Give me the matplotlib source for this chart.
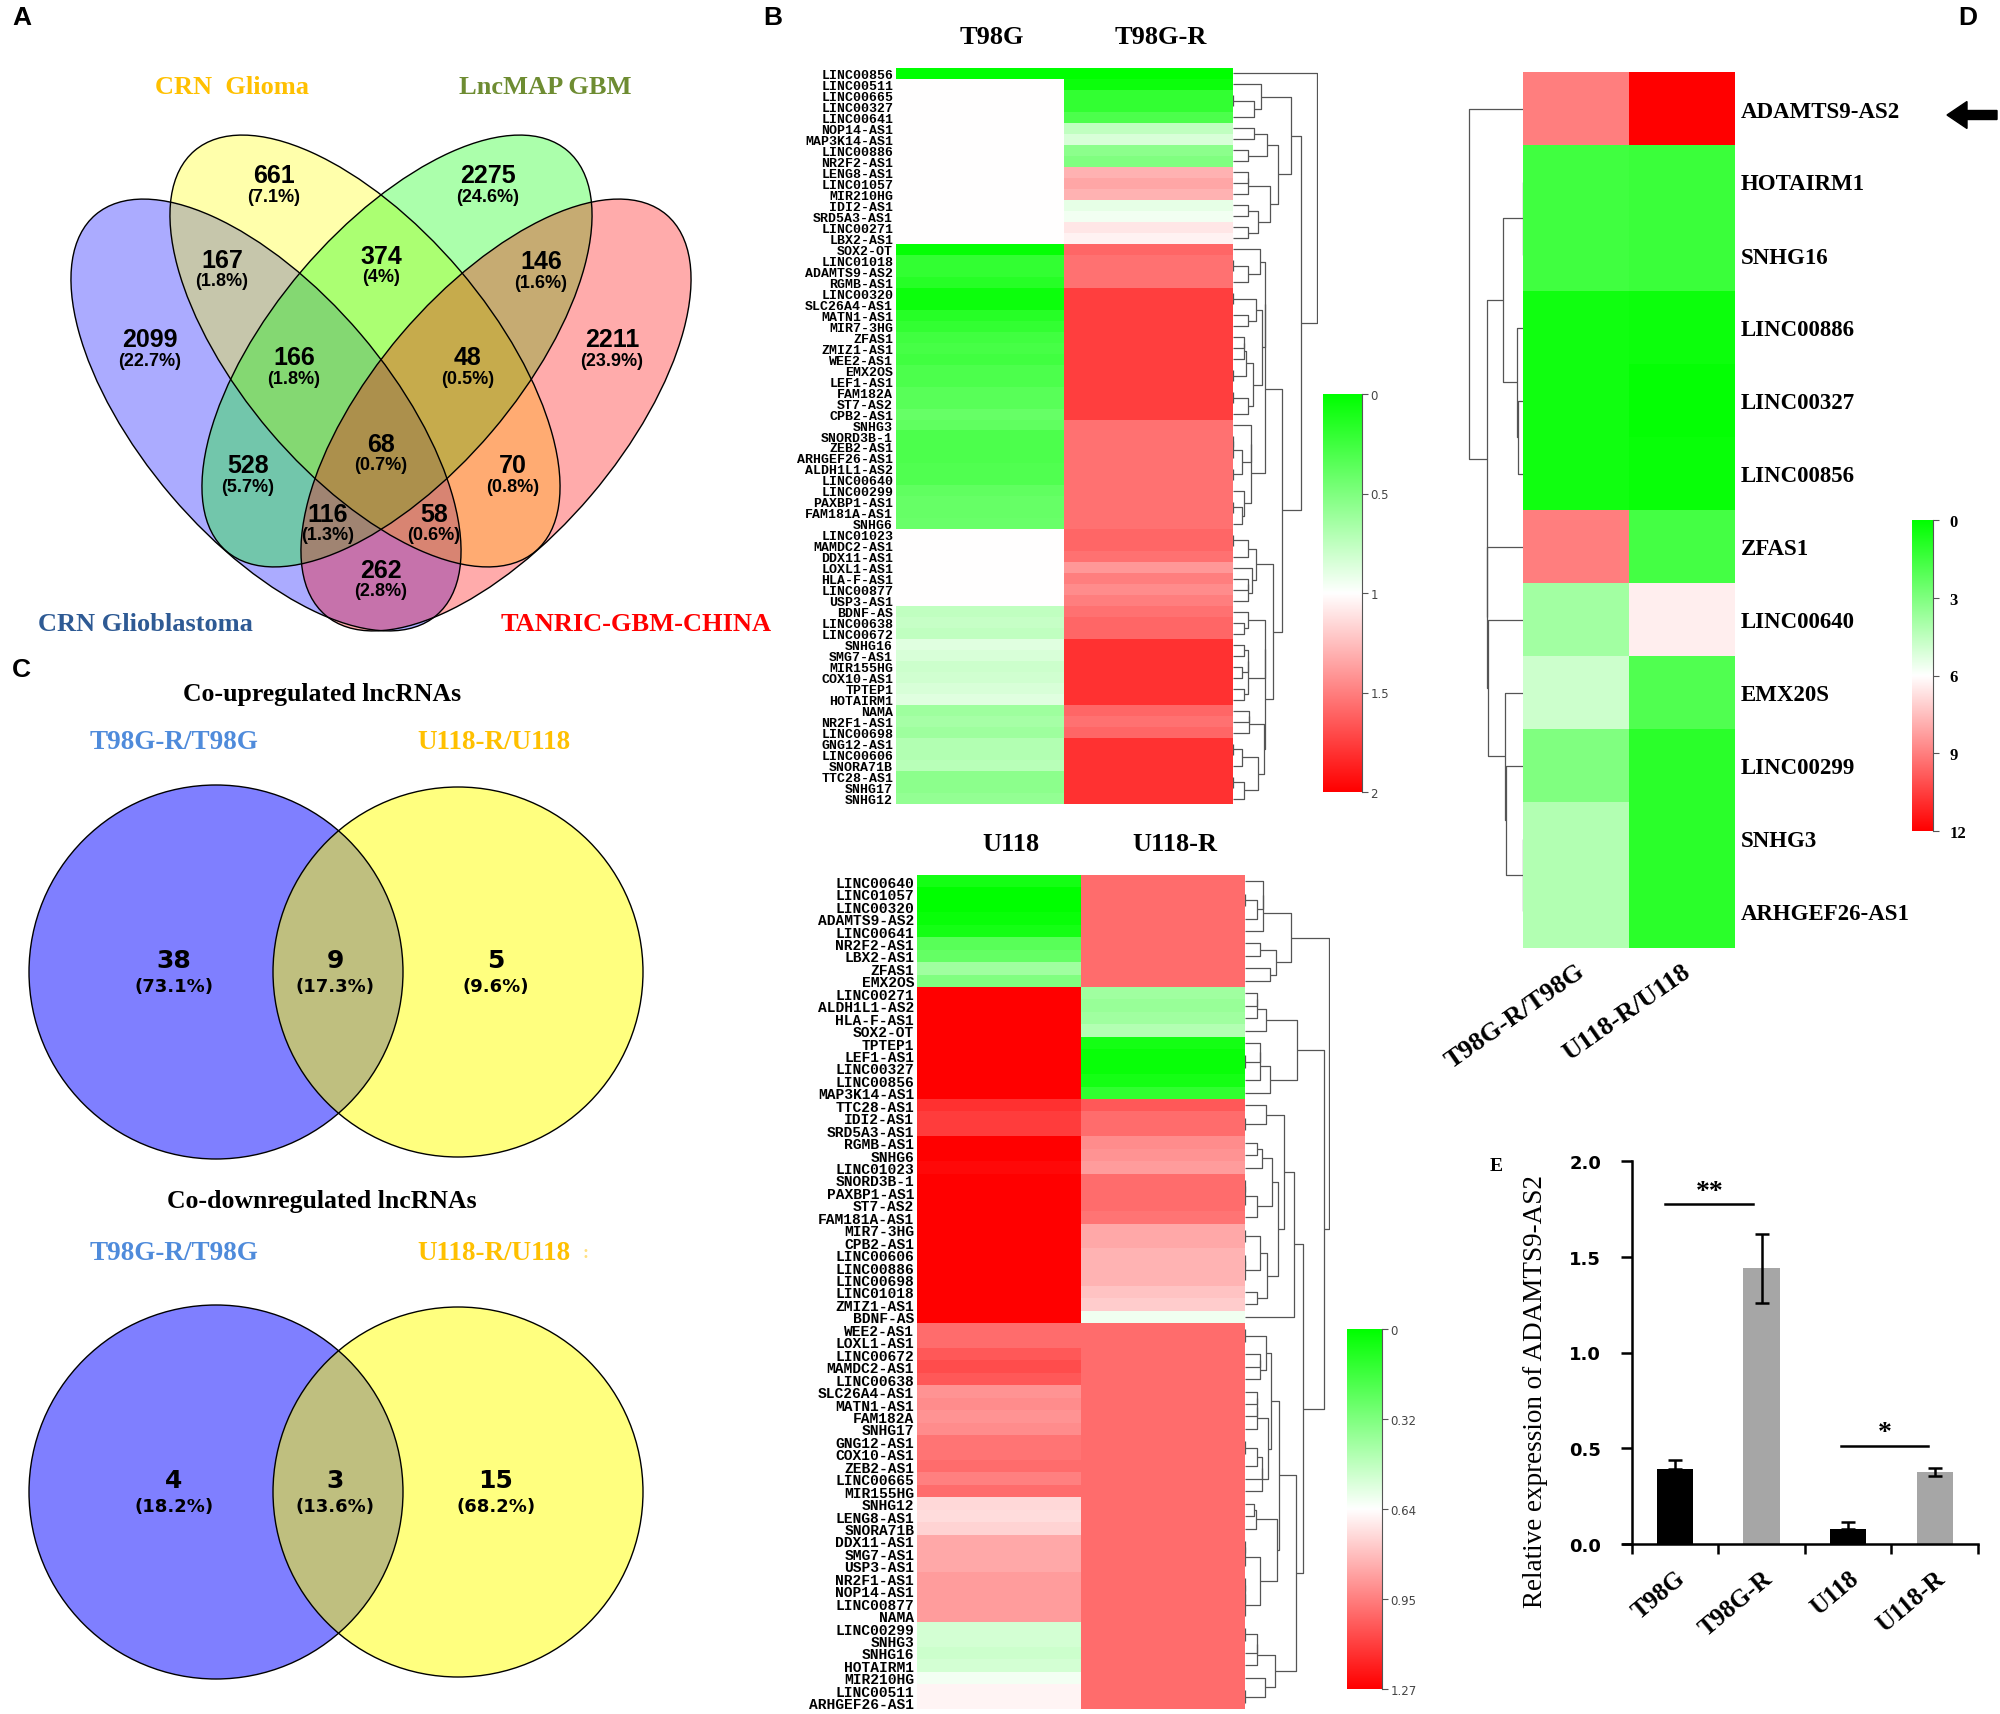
import numpy as np
import matplotlib
matplotlib.use("Agg")
import matplotlib.pyplot as plt
from matplotlib.patches import Ellipse, Circle, FancyArrow
from matplotlib.colors import LinearSegmentedColormap
from matplotlib import font_manager

W, H = 2000, 1715

installed = {f.name for f in font_manager.fontManager.ttflist}
NARROW = "Liberation Sans Narrow" if "Liberation Sans Narrow" in installed else "Liberation Sans"
SANS = "Liberation Sans"
SERIF = "Liberation Serif"
MONO = "Liberation Mono"

# ---------------- panel A: four-set venn ----------------
venn4_sets = ["CRN Glioblastoma", "CRN  Glioma", "LncMAP GBM", "TANRIC-GBM-CHINA"]
venn4_counts = [2099, 661, 2275, 2211, 167, 374, 146, 528, 70, 262, 166, 48, 68, 116, 58]
venn4_pcts = ["22.7%", "7.1%", "24.6%", "23.9%", "1.8%", "4%", "1.6%", "5.7%",
              "0.8%", "2.8%", "1.8%", "0.5%", "0.7%", "1.3%", "0.6%"]

# ---------------- panel C: two-set venns ----------------
pair_sets = ["T98G-R/T98G", "U118-R/U118"]
up_counts = [38, 9, 5]
up_pcts = ["73.1%", "17.3%", "9.6%"]
down_counts = [4, 3, 15]
down_pcts = ["18.2%", "13.6%", "68.2%"]

# ---------------- panel B: heatmaps ----------------
top_genes = ["LINC00856", "LINC00511", "LINC00665", "LINC00327", "LINC00641", "NOP14-AS1",
             "MAP3K14-AS1", "LINC00886", "NR2F2-AS1", "LENG8-AS1", "LINC01057", "MIR210HG",
             "IDI2-AS1", "SRD5A3-AS1", "LINC00271", "LBX2-AS1", "SOX2-OT", "LINC01018",
             "ADAMTS9-AS2", "RGMB-AS1", "LINC00320", "SLC26A4-AS1", "MATN1-AS1", "MIR7-3HG",
             "ZFAS1", "ZMIZ1-AS1", "WEE2-AS1", "EMX2OS", "LEF1-AS1", "FAM182A", "ST7-AS2",
             "CPB2-AS1", "SNHG3", "SNORD3B-1", "ZEB2-AS1", "ARHGEF26-AS1", "ALDH1L1-AS2",
             "LINC00640", "LINC00299", "PAXBP1-AS1", "FAM181A-AS1", "SNHG6", "LINC01023",
             "MAMDC2-AS1", "DDX11-AS1", "LOXL1-AS1", "HLA-F-AS1", "LINC00877", "USP3-AS1",
             "BDNF-AS", "LINC00638", "LINC00672", "SNHG16", "SMG7-AS1", "MIR155HG",
             "COX10-AS1", "TPTEP1", "HOTAIRM1", "NAMA", "NR2F1-AS1", "LINC00698",
             "GNG12-AS1", "LINC00606", "SNORA71B", "TTC28-AS1", "SNHG17", "SNHG12"]
top_t98g = [0.0, 1, 1, 1, 1, 1, 1, 1, 1, 1, 1, 1, 1, 1, 1, 1,
            0.02, 0.2, 0.2, 0.15, 0.05, 0.05, 0.15, 0.2, 0.25, 0.28, 0.25, 0.3, 0.3,
            0.35, 0.35, 0.4, 0.38, 0.3, 0.3, 0.3, 0.32, 0.32, 0.38, 0.4, 0.4, 0.42,
            1, 1, 1, 1, 1, 1, 1,
            0.75, 0.78, 0.75, 0.88, 0.85, 0.8, 0.82, 0.85, 0.88, 0.62, 0.65, 0.62,
            0.7, 0.7, 0.72, 0.55, 0.55, 0.58]
top_t98g_r = [0.0, 0.05, 0.2, 0.2, 0.3, 0.75, 0.85, 0.55, 0.5, 1.3, 1.35, 1.3, 0.9, 0.95, 1.1, 1.05,
              1.6, 1.55, 1.55, 1.55,
              1.75, 1.75, 1.75, 1.75, 1.75, 1.75, 1.75, 1.75, 1.75, 1.75, 1.75, 1.75,
              1.55, 1.55, 1.55, 1.55, 1.55, 1.55, 1.55, 1.55, 1.55, 1.55,
              1.6, 1.6, 1.55, 1.4, 1.5, 1.45, 1.5,
              1.55, 1.6, 1.6,
              1.8, 1.8, 1.8, 1.8, 1.8, 1.8,
              1.6, 1.55, 1.6,
              1.8, 1.8, 1.8, 1.8, 1.8, 1.8]

bot_genes = ["LINC00640", "LINC01057", "LINC00320", "ADAMTS9-AS2", "LINC00641", "NR2F2-AS1",
             "LBX2-AS1", "ZFAS1", "EMX2OS", "LINC00271", "ALDH1L1-AS2", "HLA-F-AS1", "SOX2-OT",
             "TPTEP1", "LEF1-AS1", "LINC00327", "LINC00856", "MAP3K14-AS1", "TTC28-AS1",
             "IDI2-AS1", "SRD5A3-AS1", "RGMB-AS1", "SNHG6", "LINC01023", "SNORD3B-1",
             "PAXBP1-AS1", "ST7-AS2", "FAM181A-AS1", "MIR7-3HG", "CPB2-AS1", "LINC00606",
             "LINC00886", "LINC00698", "LINC01018", "ZMIZ1-AS1", "BDNF-AS", "WEE2-AS1",
             "LOXL1-AS1", "LINC00672", "MAMDC2-AS1", "LINC00638", "SLC26A4-AS1", "MATN1-AS1",
             "FAM182A", "SNHG17", "GNG12-AS1", "COX10-AS1", "ZEB2-AS1", "LINC00665",
             "MIR155HG", "SNHG12", "LENG8-AS1", "SNORA71B", "DDX11-AS1", "SMG7-AS1",
             "USP3-AS1", "NR2F1-AS1", "NOP14-AS1", "LINC00877", "NAMA", "LINC00299", "SNHG3",
             "SNHG16", "HOTAIRM1", "MIR210HG", "LINC00511", "ARHGEF26-AS1"]
bot_u118 = [0.05, 0.0, 0.0, 0.02, 0.05, 0.22, 0.25, 0.4, 0.32,
            1.27, 1.27, 1.27, 1.27, 1.27, 1.27, 1.27, 1.27, 1.27,
            1.15, 1.12, 1.12,
            1.27, 1.27, 1.25, 1.27, 1.27, 1.27, 1.27, 1.27, 1.27, 1.27, 1.27, 1.27, 1.27, 1.27, 1.27,
            1.0, 1.0, 1.05, 1.08, 1.05, 0.9, 0.92, 0.9, 0.92, 0.98, 0.98, 1.0, 0.95, 1.0,
            0.73, 0.72, 0.74, 0.85, 0.85, 0.85, 0.88, 0.88, 0.88, 0.88,
            0.53, 0.53, 0.51, 0.53, 0.61, 0.66, 0.66]
bot_u118_r = [1.0, 1.0, 1.0, 1.0, 1.0, 1.0, 1.0, 1.0, 1.0,
              0.4, 0.38, 0.4, 0.45, 0.05, 0.02, 0.02, 0.05, 0.12,
              1.05, 1.0, 1.0, 0.92, 0.9, 0.88, 1.0, 1.0, 1.0, 0.98, 0.85, 0.85, 0.82, 0.82,
              0.82, 0.78, 0.76, 0.6,
              1.0, 1.0, 1.0, 1.0, 1.0, 1.0, 1.0, 1.0, 1.0, 1.0, 1.0, 1.0, 1.0, 1.0, 1.0, 1.0,
              1.0, 1.0, 1.0, 1.0, 1.0, 1.0, 1.0, 1.0, 1.0, 1.0, 1.0, 1.0, 1.0, 1.0, 1.0]

# ---------------- panel D: fold-change heatmap ----------------
d_genes = ["ADAMTS9-AS2", "HOTAIRM1", "SNHG16", "LINC00886", "LINC00327", "LINC00856",
           "ZFAS1", "LINC00640", "EMX20S", "LINC00299", "SNHG3", "ARHGEF26-AS1"]
d_cols = ["T98G-R/T98G", "U118-R/U118"]
d_t98g = [9.0, 1.5, 1.5, 0.4, 0.4, 0.4, 9.0, 3.8, 4.8, 3.0, 4.2, 4.2]
d_u118 = [12.0, 1.4, 1.4, 0.3, 0.1, 0.2, 1.6, 6.4, 1.9, 1.0, 1.0, 1.0]

# ---------------- panel E: qPCR bars ----------------
e_groups = ["T98G", "T98G-R", "U118", "U118-R"]
e_means = [0.39, 1.44, 0.08, 0.376]
e_err_low = [0.0, 0.18, 0.0, 0.02]
e_err_high = [0.05, 0.18, 0.035, 0.02]

gwr = LinearSegmentedColormap.from_list("gwr", ["#00FF00", "#FFFFFF", "#FF0000"])


def rect(x0, y0, x1, y1):
    return [x0 / W, 1 - y1 / H, (x1 - x0) / W, (y1 - y0) / H]


def adjacent_linkage(values):
    # average linkage, merging only neighbouring clusters so the leaves keep the row order
    groups = [[i] for i in range(len(values))]
    pos = [float(i) for i in range(len(values))]
    hgt = [0.0] * len(values)
    links = []
    while len(groups) > 1:
        best_j, best_d = 0, None
        for j in range(len(groups) - 1):
            a = values[groups[j]]
            b = values[groups[j + 1]]
            d = np.sqrt(((a[:, None, :] - b[None, :, :]) ** 2).sum(-1)).mean()
            if best_d is None or d < best_d:
                best_j, best_d = j, d
        j = best_j
        h = max(best_d, hgt[j], hgt[j + 1])
        links.append((pos[j], hgt[j], pos[j + 1], hgt[j + 1], h))
        groups[j:j + 2] = [groups[j] + groups[j + 1]]
        pos[j:j + 2] = [(pos[j] + pos[j + 1]) / 2]
        hgt[j:j + 2] = [h]
    return links


def draw_dendrogram(box, values, left=False):
    ax = fig.add_axes(rect(*box))
    links = adjacent_linkage(values)
    top = max(np.sqrt(l[4]) for l in links)
    for pa, ha, pb, hb, h in links:
        ax.plot([np.sqrt(ha), np.sqrt(h), np.sqrt(h), np.sqrt(hb)], [pa, pa, pb, pb],
                color="#555555", lw=0.9, solid_capstyle="butt")
    ax.set_ylim(len(values) - 0.5, -0.5)
    if left:
        ax.set_xlim(top * 1.01, 0)
    else:
        ax.set_xlim(0, top * 1.01)
    ax.axis("off")


def draw_heatmap(box, genes, col_a, col_b, vmax, label_side="left", fontsize=10,
                 family=MONO):
    ax = fig.add_axes(rect(*box))
    vals = np.column_stack([col_a, col_b])
    ax.imshow(vals, cmap=gwr, vmin=0, vmax=vmax, aspect="auto", interpolation="nearest")
    ax.set_yticks(range(len(genes)))
    ax.set_yticklabels(genes, fontfamily=family, fontsize=fontsize, fontweight="bold")
    if label_side == "right":
        ax.yaxis.tick_right()
    ax.tick_params(axis="y", length=0, pad=2)
    ax.set_xticks([])
    for s in ax.spines.values():
        s.set_visible(False)
    return ax, vals


def draw_colorbar(box, vmax, ticks, labels, font, pad=2):
    cax = fig.add_axes(rect(*box))
    grad = np.linspace(0, vmax, 256)[:, None]
    cax.imshow(grad, cmap=gwr, vmin=0, vmax=vmax, aspect="auto", extent=[0, 1, vmax, 0])
    cax.set_xticks([])
    cax.yaxis.tick_right()
    cax.set_yticks(ticks)
    cax.set_yticklabels(labels, **font)
    for k in ["top", "left", "bottom"]:
        cax.spines[k].set_visible(False)
    cax.spines["right"].set_color("#555555")
    cax.tick_params(axis="y", length=4, color="#555555", pad=pad)


fig = plt.figure(figsize=(W / 100, H / 100), dpi=100)

# canvas in pixel units for the venn panels and loose labels
canvas = fig.add_axes([0, 0, 1, 1])
canvas.set_xlim(0, W)
canvas.set_ylim(H, 0)
canvas.axis("off")

for letter, (x, y) in zip("ABCD", [(12, 18), (763, 18), (12, 670), (1958, 18)]):
    canvas.text(x, y, letter, fontfamily=SANS, fontweight="bold", fontsize=19,
                ha="left", va="center")

# --- A
ellipses = [((266, 416), 49.6, (0, 0, 1)), ((365, 352), 49.6, (1, 1, 0)),
            ((397, 352), -49.6, (0, 1, 0)), ((496, 416), -49.6, (1, 0, 0))]
for c, ang, col in ellipses:
    canvas.add_patch(Ellipse(c, 526, 249, angle=ang, facecolor=col, alpha=0.33, lw=0))
for c, ang, col in ellipses:
    canvas.add_patch(Ellipse(c, 526, 249, angle=ang, facecolor="none", edgecolor="black", lw=1))

venn4_xy = [(150, 340), (274, 176), (488, 176), (612, 340), (222, 261), (381, 257),
            (541, 262), (248, 466), (513, 466), (381, 571), (294, 358), (468, 358),
            (381, 445), (328, 515), (434, 515)]
for (x, y), n, p in zip(venn4_xy, venn4_counts, venn4_pcts):
    canvas.text(x, y, str(n), fontfamily=NARROW, fontweight="bold", fontsize=18,
                ha="center", va="center")
    canvas.text(x, y + 21, "(" + p + ")", fontfamily=NARROW, fontweight="bold", fontsize=13,
                ha="center", va="center")

set_xy = [(145, 625), (232, 87), (545, 87), (636, 625)]
set_col = ["#2E5A94", "#FFC000", "#6E8C32", "#FF0000"]
for (x, y), name, col in zip(set_xy, venn4_sets, set_col):
    canvas.text(x, y, name, fontfamily=SERIF, fontweight="bold", fontsize=19, color=col,
                ha="center", va="center")

# --- C
def venn2(cy, counts, pcts, title, title_y, label_y):
    canvas.add_patch(Circle((216, cy), 187, facecolor=(0, 0, 1), alpha=0.5, lw=0))
    canvas.add_patch(Circle((458, cy), 185, facecolor=(1, 1, 0), alpha=0.5, lw=0))
    canvas.add_patch(Circle((216, cy), 187, facecolor="none", edgecolor="black", lw=1))
    canvas.add_patch(Circle((458, cy), 185, facecolor="none", edgecolor="black", lw=1))
    for x, n, p in zip([174, 335, 496], counts, pcts):
        canvas.text(x, cy - 12, str(n), fontfamily="DejaVu Sans", fontweight="bold",
                    fontsize=18, ha="center", va="center")
        canvas.text(x, cy + 14, "(" + p + ")", fontfamily="DejaVu Sans", fontweight="bold",
                    fontsize=13, ha="center", va="center")
    canvas.text(322, title_y, title, fontfamily=SERIF, fontweight="bold", fontsize=18.5,
                ha="center", va="center")
    canvas.text(174, label_y, pair_sets[0], fontfamily=SERIF, fontweight="bold", fontsize=19.5,
                color="#4F8BDB", ha="center", va="center")
    canvas.text(494, label_y, pair_sets[1], fontfamily=SERIF, fontweight="bold", fontsize=19.5,
                color="#FFC000", ha="center", va="center")


venn2(973, up_counts, up_pcts, "Co-upregulated lncRNAs", 695, 743)
venn2(1493, down_counts, down_pcts, "Co-downregulated lncRNAs", 1202, 1254)
canvas.text(586, 1254, ":", fontfamily=SERIF, fontweight="bold", fontsize=13,
            color="#FFE080", ha="center", va="center")

# --- B
top_box = (896, 69, 1233, 805)
ax_top, top_vals = draw_heatmap(top_box, top_genes, top_t98g, top_t98g_r, 2.0, fontsize=9.5)
draw_dendrogram((1233, 69, 1318, 805), top_vals)
bot_box = (917, 876, 1245, 1710)
ax_bot, bot_vals = draw_heatmap(bot_box, bot_genes, bot_u118, bot_u118_r, 1.27, fontsize=10.5)
draw_dendrogram((1245, 876, 1330, 1710), bot_vals)

for (x0, y0, x1, y1), names in [(top_box, ["T98G", "T98G-R"]), (bot_box, ["U118", "U118-R"])]:
    cw = (x1 - x0) / 2
    for i, name in enumerate(names):
        canvas.text(x0 + cw * (i + 0.5) + 12, y0 - 31, name, fontfamily=SERIF,
                    fontweight="bold", fontsize=19, ha="center", va="center")

small = dict(fontfamily="DejaVu Sans", fontsize=8.5, color="#444444")
draw_colorbar((1323, 395, 1362, 793), 2.0, [0, 0.5, 1, 1.5, 2],
              ["0", "0.5", "1", "1.5", "2"], small)
draw_colorbar((1347, 1330, 1382, 1690), 1.27, np.linspace(0, 1.27, 5),
              ["0", "0.32", "0.64", "0.95", "1.27"], small)

# --- D
ax_d, d_vals = draw_heatmap((1523, 73, 1735, 949), d_genes, d_t98g, d_u118, 12.0,
                            label_side="right", fontsize=16.5, family=SERIF)
ax_d.tick_params(axis="y", pad=4)
ax_d.set_xticks([0, 1])
ax_d.set_xticklabels(d_cols, rotation=35, ha="right", rotation_mode="anchor",
                     fontfamily=SERIF, fontweight="bold", fontsize=19)
ax_d.tick_params(axis="x", length=0, pad=8)
draw_dendrogram((1468, 73, 1523, 949), d_vals, left=True)
draw_colorbar((1912, 521, 1933, 832), 12.0, [0, 3, 6, 9, 12], ["0", "3", "6", "9", "12"],
              dict(fontfamily=SERIF, fontweight="bold", fontsize=12), pad=8)
canvas.add_patch(FancyArrow(1997, 116, -50, 0, width=9, head_width=27, head_length=20,
                            length_includes_head=True, color="black"))

# --- E
ax_e = fig.add_axes(rect(1623, 1162, 1978, 1545))
xpos = np.arange(len(e_groups)) + 0.5
ax_e.bar(xpos, e_means, width=0.42, color=["black", "#A6A6A6", "black", "#A6A6A6"])
ax_e.errorbar(xpos, e_means, yerr=[e_err_low, e_err_high], fmt="none", ecolor="black",
              elinewidth=1.8, capsize=5, capthick=1.8)
ax_e.set_xlim(-0.1, 4.0)
ax_e.set_ylim(0, 2.0)
ax_e.spines["left"].set_position(("data", 0))
ax_e.spines["top"].set_visible(False)
ax_e.spines["right"].set_visible(False)
ax_e.spines["left"].set_linewidth(1.8)
ax_e.spines["bottom"].set_linewidth(1.8)
ax_e.set_yticks([0, 0.5, 1.0, 1.5, 2.0])
ax_e.set_yticklabels(["0.0", "0.5", "1.0", "1.5", "2.0"], fontfamily="DejaVu Sans",
                     fontweight="bold", fontsize=13)
ax_e.tick_params(axis="y", length=8, width=1.8, pad=14)
ax_e.set_xticks([0, 1, 2, 3, 4])
ax_e.set_xticklabels([])
ax_e.set_xticks(xpos, minor=True)
ax_e.set_xticklabels(e_groups, minor=True, rotation=40, ha="right", rotation_mode="anchor",
                     fontfamily=SERIF, fontweight="bold", fontsize=18)
ax_e.tick_params(axis="x", which="major", length=7, width=1.8)
ax_e.tick_params(axis="x", which="minor", length=0, pad=16)
ax_e.set_ylabel("Relative expression of ADAMTS9-AS2", fontfamily=SERIF, fontsize=19.5)
ax_e.yaxis.set_label_coords(-0.21, 0.40)
ax_e.plot([0.38, 1.40], [1.775, 1.775], color="black", lw=1.8)
ax_e.text(0.9, 1.84, "**", fontfamily=SERIF, fontweight="bold", fontsize=20, ha="center",
          va="center")
ax_e.plot([2.42, 3.42], [0.51, 0.51], color="black", lw=1.8)
ax_e.text(2.92, 0.58, "*", fontfamily=SERIF, fontweight="bold", fontsize=20, ha="center",
          va="center")
canvas.text(1490, 1167, "E", fontfamily=SERIF, fontweight="bold", fontsize=14,
            ha="left", va="center")

fig.savefig("out.png", dpi=100)
